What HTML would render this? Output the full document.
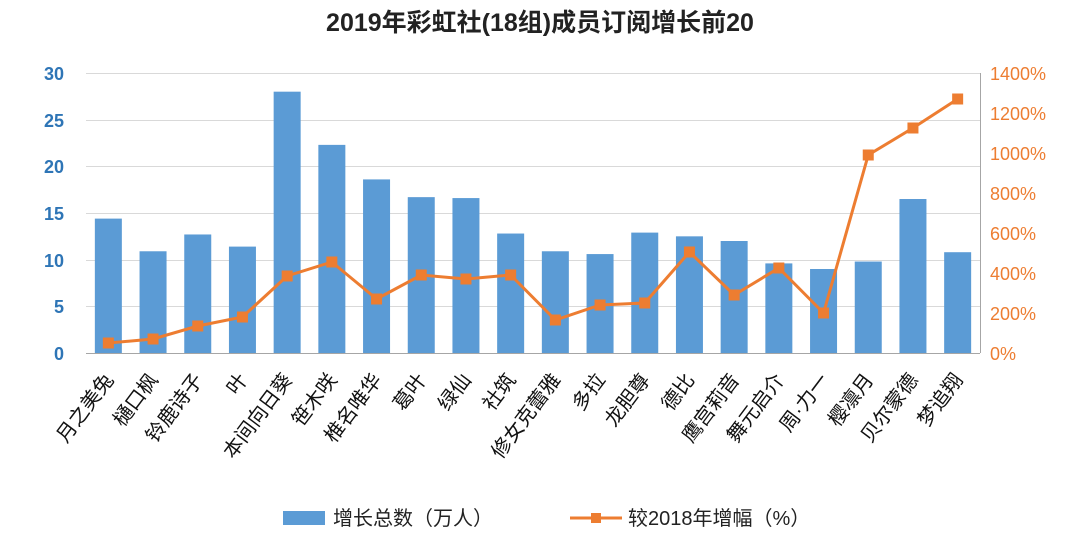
<!DOCTYPE html>
<html><head><meta charset="utf-8"><style>
body{margin:0;background:#fff;}
svg{display:block;font-family:"Liberation Sans","Noto Sans CJK SC",sans-serif;}
</style></head><body>
<svg width="1080" height="533" viewBox="0 0 1080 533" xmlns="http://www.w3.org/2000/svg">
<text x="540" y="31" text-anchor="middle" font-size="25" font-weight="bold" fill="#222">2019年彩虹社(18组)成员订阅增长前20</text>
<g stroke="#d9d9d9" stroke-width="1">
<line x1="86" y1="73.5" x2="980" y2="73.5"/>
<line x1="86" y1="120.5" x2="980" y2="120.5"/>
<line x1="86" y1="166.5" x2="980" y2="166.5"/>
<line x1="86" y1="213.5" x2="980" y2="213.5"/>
<line x1="86" y1="260.5" x2="980" y2="260.5"/>
<line x1="86" y1="306.5" x2="980" y2="306.5"/>
</g>
<line x1="86" y1="353.5" x2="980" y2="353.5" stroke="#a6a6a6"/>
<line x1="980.5" y1="73" x2="980.5" y2="353" stroke="#a6a6a6"/>
<g font-size="18" fill="#2e75b6" text-anchor="end" font-weight="bold">
<text x="64" y="80">30</text><text x="64" y="127">25</text><text x="64" y="173">20</text><text x="64" y="220">15</text><text x="64" y="267">10</text><text x="64" y="313">5</text><text x="64" y="360">0</text>
</g>
<g font-size="18" fill="#ed7d31">
<text x="990" y="80">1400%</text><text x="990" y="120">1200%</text><text x="990" y="160">1000%</text><text x="990" y="200">800%</text><text x="990" y="240">600%</text><text x="990" y="280">400%</text><text x="990" y="320">200%</text><text x="990" y="360">0%</text>
</g>
<g fill="#5b9bd5" id="bars"></g>
<polyline id="ln" fill="none" stroke="#ed7d31" stroke-width="3"/>
<g fill="#ed7d31" id="mk"></g>
<g font-size="20" fill="#111" id="lbl"></g>
<rect x="283" y="511" width="42" height="14" fill="#5b9bd5"/>
<text x="333" y="525" font-size="20" fill="#222">增长总数（万人）</text>
<line x1="570" y1="518" x2="622" y2="518" stroke="#ed7d31" stroke-width="3"/>
<rect x="591" y="513" width="10" height="10" fill="#ed7d31"/>
<text x="628" y="525" font-size="20" fill="#222">较2018年增幅（%）</text>
<script>
var v=[14.4,10.9,12.7,11.4,28.0,22.3,18.6,16.7,16.6,12.8,10.9,10.6,12.9,12.5,12.0,9.6,9.0,9.8,16.5,10.8];
var p=[50,70,135,180,385,455,270,390,370,390,165,240,250,505,290,425,200,990,1125,1270];
var n=["月之美兔","樋口枫","铃鹿诗子","叶","本间向日葵","笹木咲","椎名唯华","葛叶","绿仙","社筑","修女克蕾雅","多拉","龙胆尊","德比","鹰宫莉音","舞元启介","周·力一","樱凛月","贝尔蒙德","梦追翔"];
var ns="http://www.w3.org/2000/svg",pts=[];
for(var i=0;i<20;i++){var cx=86+44.7*(i+0.5);
var r=document.createElementNS(ns,"rect");var h=v[i]*9.333;
r.setAttribute("x",cx-13.5);r.setAttribute("y",353-h);r.setAttribute("width",27);r.setAttribute("height",h);
document.getElementById("bars").appendChild(r);
var y=353-p[i]*0.2;pts.push(cx+","+y);
var m=document.createElementNS(ns,"rect");m.setAttribute("x",cx-5.5);m.setAttribute("y",y-5.5);m.setAttribute("width",11);m.setAttribute("height",11);
document.getElementById("mk").appendChild(m);
var t=document.createElementNS(ns,"text");t.setAttribute("text-anchor","end");
t.setAttribute("transform","translate("+(cx+6)+",380) rotate(-53)");t.textContent=n[i];
document.getElementById("lbl").appendChild(t);}
document.getElementById("ln").setAttribute("points",pts.join(" "));
</script>
</svg>
</body></html>
